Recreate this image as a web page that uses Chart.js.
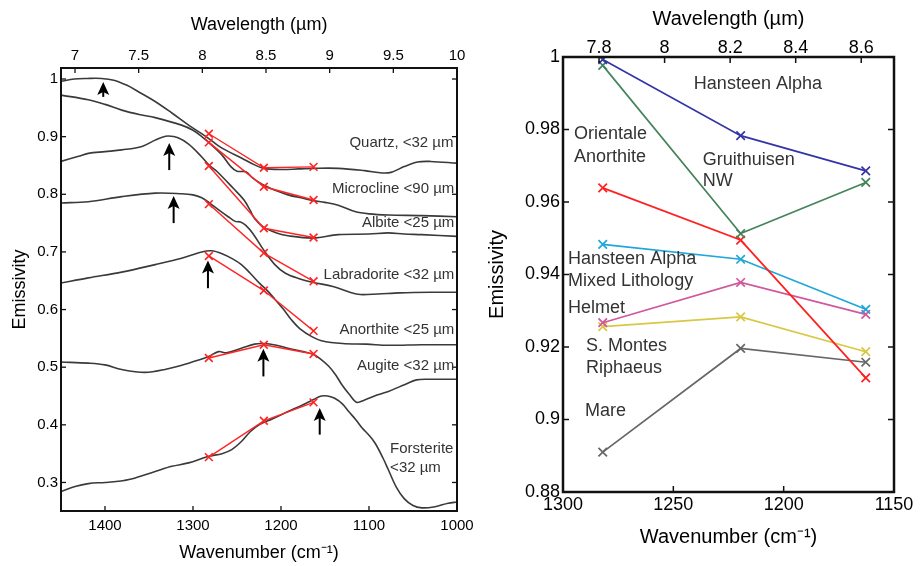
<!DOCTYPE html>
<html><head><meta charset="utf-8">
<script src="https://cdn.jsdelivr.net/npm/chart.js@4.4.1/dist/chart.umd.min.js"></script>
<style>
html,body{margin:0;padding:0;background:#fff;}
#wrap{position:relative;width:920px;height:566px;overflow:hidden;}
#c1{position:absolute;left:0;top:0;}
#c2{position:absolute;left:470px;top:0;}
</style></head><body>
<div id="wrap"><canvas id="c1" width="490" height="566"></canvas><canvas id="c2" width="450" height="566"></canvas></div>
<script>
// ---------- LEFT PANEL DATA: lab spectra [wavenumber cm-1, emissivity] ----------
const quartz = [[1450,0.996],[1435,1.000],[1420,1.001],[1404,1.001],[1390,0.998],[1375,0.989],[1362,0.978],[1343,0.961],[1324,0.941],[1305,0.920],[1286,0.901],[1267,0.880],[1245,0.863],[1230,0.851],[1220,0.845],[1200,0.843],[1180,0.844],[1163,0.845],[1135,0.845],[1105,0.841],[1085,0.837],[1075,0.838],[1060,0.848],[1045,0.856],[1030,0.857],[1000,0.854]];
const microcline = [[1450,0.972],[1419,0.964],[1400,0.956],[1381,0.946],[1360,0.938],[1343,0.933],[1313,0.920],[1300,0.911],[1290,0.900],[1280,0.887],[1267,0.868],[1257,0.848],[1250,0.840],[1240,0.839],[1232,0.828],[1220,0.816],[1205,0.806],[1192,0.799],[1175,0.793],[1163,0.789],[1150,0.786],[1135,0.781],[1116,0.770],[1100,0.766],[1078,0.764],[1040,0.763],[1000,0.761]];
const albite = [[1450,0.857],[1430,0.866],[1419,0.871],[1400,0.874],[1381,0.877],[1358,0.883],[1343,0.894],[1335,0.899],[1328,0.901],[1317,0.898],[1305,0.887],[1292,0.868],[1282,0.851],[1273,0.840],[1254,0.810],[1242,0.790],[1235,0.772],[1230,0.758],[1220,0.743],[1205,0.733],[1192,0.728],[1163,0.724],[1135,0.730],[1100,0.731],[1078,0.733],[1060,0.731],[1040,0.730],[1000,0.727]];
const labradorite = [[1450,0.785],[1419,0.787],[1381,0.796],[1343,0.802],[1313,0.801],[1300,0.799],[1290,0.794],[1282,0.786],[1270,0.772],[1260,0.761],[1252,0.753],[1246,0.752],[1240,0.746],[1232,0.732],[1220,0.704],[1207,0.678],[1195,0.663],[1180,0.654],[1163,0.647],[1141,0.640],[1120,0.629],[1110,0.626],[1090,0.627],[1065,0.629],[1030,0.630],[1000,0.630]];
const anorthite = [[1450,0.646],[1419,0.655],[1381,0.665],[1343,0.678],[1313,0.689],[1290,0.700],[1279,0.702],[1267,0.697],[1255,0.688],[1245,0.678],[1235,0.663],[1224,0.645],[1215,0.632],[1207,0.618],[1197,0.600],[1188,0.582],[1178,0.566],[1165,0.553],[1154,0.546],[1130,0.541],[1103,0.540],[1078,0.538],[1040,0.539],[1000,0.539]];
const augite = [[1450,0.509],[1419,0.507],[1400,0.504],[1381,0.496],[1355,0.491],[1332,0.496],[1305,0.507],[1283,0.518],[1271,0.527],[1262,0.525],[1245,0.533],[1230,0.540],[1220,0.541],[1205,0.538],[1192,0.533],[1175,0.527],[1163,0.522],[1155,0.514],[1146,0.502],[1138,0.487],[1131,0.470],[1122,0.452],[1114,0.439],[1105,0.443],[1090,0.452],[1078,0.458],[1059,0.470],[1046,0.478],[1030,0.479],[1000,0.479]];
const forsterite = [[1450,0.284],[1434,0.293],[1419,0.298],[1400,0.300],[1385,0.302],[1370,0.306],[1343,0.319],[1324,0.328],[1305,0.334],[1283,0.345],[1267,0.350],[1256,0.357],[1245,0.371],[1235,0.388],[1224,0.401],[1210,0.410],[1192,0.423],[1175,0.435],[1163,0.444],[1154,0.450],[1147,0.450],[1139,0.446],[1130,0.436],[1123,0.423],[1115,0.409],[1108,0.395],[1100,0.382],[1093,0.368],[1084,0.342],[1078,0.322],[1069,0.292],[1060,0.272],[1050,0.260],[1040,0.256],[1025,0.258],[1010,0.264],[1000,0.266]];

// band-averaged samples (red crosses) at the three Diviner bands
const sampleWn = [1282, 1219.5, 1163];
const quartzX = [0.905, 0.846, 0.8475];
const microclineX = [0.890, 0.813, 0.790];
const albiteX = [0.849, 0.741, 0.725];
const labradoriteX = [0.783, 0.698, 0.649];
const anorthiteX = [0.693, 0.633, 0.563];
const augiteX = [0.516, 0.539, 0.523];
const forsteriteX = [0.344, 0.407, 0.439];

// Christiansen-feature arrows: [wavenumber, tip emissivity, tail emissivity]
const arrows = [[1402,0.995,0.969],[1327,0.889,0.842],[1322,0.797,0.750],[1283,0.685,0.637],[1220,0.532,0.484],[1156,0.429,0.383]];

const leftXTicks = [1400,1300,1200,1100,1000];
const leftTopTicks = [7,7.5,8,8.5,9,9.5,10];
const leftYTicks = [0.3,0.4,0.5,0.6,0.7,0.8,0.9,1];

// spectrum labels: [text, wavenumber anchor, emissivity anchor, align]
const leftLabels = [
  ['Quartz, <32 \u00b5m',1004,0.890,'right'],
  ['Microcline <90 \u00b5m',1003,0.809,'right'],
  ['Albite <25 \u00b5m',1003,0.750,'right'],
  ['Labradorite <32 \u00b5m',1003,0.661,'right'],
  ['Anorthite <25 \u00b5m',1003,0.565,'right'],
  ['Augite <32 \u00b5m',1003,0.502,'right'],
  ['Forsterite',1076,0.359,'left'],
  ['<32 \u00b5m',1076,0.326,'left']
];

// ---------- RIGHT PANEL DATA: lunar regions ----------
const bandWn = [1282, 1219.5, 1162.8];
const hansteenAlpha = [0.9993, 0.9783, 0.9686];
const gruithuisenNW = [0.9977, 0.9513, 0.9654];
const orientaleAnorthite = [0.9639, 0.9495, 0.9115];
const hansteenMixed = [0.9483, 0.9442, 0.9304];
const helmet = [0.9267, 0.9378, 0.9290];
const montesRiphaeus = [0.9256, 0.9283, 0.9187];
const mare = [0.8910, 0.9196, 0.9158];

const rightXTicks = [1300,1250,1200,1150];
const rightTopTicks = [7.8,8,8.2,8.4,8.6];
const rightYTicks = [0.88,0.9,0.92,0.94,0.96,0.98,1];

const rightLabels = [
  ['Hansteen Alpha',1240.7,0.9926,'left'],
  ['Orientale',1295.0,0.9788,'left'],
  ['Anorthite',1295.0,0.9725,'left'],
  ['Gruithuisen',1236.7,0.9717,'left'],
  ['NW',1236.7,0.9657,'left'],
  ['Hansteen Alpha',1297.7,0.9444,'left'],
  ['Mixed Lithology',1297.7,0.9383,'left'],
  ['Helmet',1297.7,0.9308,'left'],
  ['S. Montes',1289.6,0.9204,'left'],
  ['Riphaeus',1289.6,0.9143,'left'],
  ['Mare',1290.0,0.9024,'left']
];

// ---------- helpers ----------
const FONT = '"Liberation Sans", Arial, Helvetica, sans-serif';
const toXY = arr => arr.map(p => ({x: p[0], y: p[1]}));
const zipXY = (xs, ys) => xs.map((x, i) => ({x: x, y: ys[i]}));
const setTicks = vals => (s => { s.ticks = vals.map(v => ({value: v})); });
const fixW = w => (s => { s.width = w; s.paddingTop = 0; s.paddingBottom = 0; s.paddingLeft = 0; s.paddingRight = 0; });
const fixH = h => (s => { s.height = h; s.paddingTop = 0; s.paddingBottom = 0; s.paddingLeft = 0; s.paddingRight = 0; });
const noGrid = {display: false, drawTicks: false};

function decorPlugin(o) {
  return {
    id: 'decor',
    afterDatasetsDraw(chart) {
      const {ctx, chartArea: a, scales} = chart;
      const sx = scales.x, sy = scales.y, st = scales.x2;
      ctx.save();
      ctx.strokeStyle = '#111';
      ctx.lineWidth = o.tickWidth;
      const L = o.tickLen;
      const seg = (x1, y1, x2, y2) => { ctx.beginPath(); ctx.moveTo(x1, y1); ctx.lineTo(x2, y2); ctx.stroke(); };
      sx.ticks.forEach(t => { const p = sx.getPixelForValue(t.value); seg(p, a.bottom, p, a.bottom - L); });
      st.ticks.forEach(t => { const p = st.getPixelForValue(t.value); seg(p, a.top, p, a.top + L); });
      sy.ticks.forEach(t => { const p = sy.getPixelForValue(t.value); seg(a.left, p, a.left + L, p); seg(a.right, p, a.right - L, p); });
      // arrows
      (o.arrows || []).forEach(ar => {
        const x = sx.getPixelForValue(ar[0]);
        const yt = sy.getPixelForValue(ar[1]);
        const yb = sy.getPixelForValue(ar[2]);
        ctx.fillStyle = '#000'; ctx.strokeStyle = '#000'; ctx.lineWidth = 2;
        seg(x, yb, x, yt + 8);
        ctx.beginPath();
        ctx.moveTo(x, yt);
        ctx.lineTo(x - 6, yt + 13);
        ctx.lineTo(x, yt + 10);
        ctx.lineTo(x + 6, yt + 13);
        ctx.closePath();
        ctx.fill();
      });
      // labels
      ctx.fillStyle = o.labelColor;
      ctx.font = o.labelFont;
      ctx.textBaseline = 'middle';
      (o.labels || []).forEach(lb => {
        ctx.textAlign = lb[3];
        ctx.fillText(lb[0], sx.getPixelForValue(lb[1]), sy.getPixelForValue(lb[2]));
      });
      // frame
      ctx.strokeStyle = '#111';
      ctx.lineWidth = o.frameWidth;
      ctx.strokeRect(a.left, a.top, a.width, a.height);
      ctx.restore();
    }
  };
}

// ---------- LEFT CHART ----------
const GRAY = '#3a3a3a', RED = '#ff2424';
const spectra = [quartz, microcline, albite, labradorite, anorthite, augite, forsterite];
const samples = [quartzX, microclineX, albiteX, labradoriteX, anorthiteX, augiteX, forsteriteX];
const leftDatasets = [];
samples.forEach(s => leftDatasets.push({
  data: zipXY(sampleWn, s), borderColor: RED, backgroundColor: RED, borderWidth: 1.4,
  pointStyle: 'crossRot', pointRadius: 5.5, pointBorderWidth: 1.6, tension: 0
}));
spectra.forEach(s => leftDatasets.push({
  data: toXY(s), borderColor: GRAY, borderWidth: 1.6, pointRadius: 0, tension: 0.35
}));

new Chart(document.getElementById('c1'), {
  type: 'line',
  data: {datasets: leftDatasets},
  options: {
    responsive: false, animation: false, devicePixelRatio: 1,
    layout: {padding: {left: 0, top: 0, right: 33, bottom: 0}},
    plugins: {legend: {display: false}, tooltip: {enabled: false}},
    scales: {
      x: {
        type: 'linear', position: 'bottom', min: 1000, max: 1450, reverse: true,
        afterBuildTicks: setTicks(leftXTicks), afterFit: fixH(55),
        grid: noGrid, border: {display: false},
        ticks: {color: '#000', padding: 7.5, font: {family: FONT, size: 15, lineHeight: 1}, maxRotation: 0, callback: v => String(v)},
        title: {display: true, text: 'Wavenumber (cm\u207b\u00b9)', color: '#000', font: {family: FONT, size: 18, lineHeight: 1.2}, padding: {top: 0, bottom: 2}}
      },
      x2: {
        type: 'linear', position: 'top', min: 6.89, max: 10,
        afterBuildTicks: setTicks(leftTopTicks), afterFit: fixH(68),
        grid: noGrid, border: {display: false},
        ticks: {color: '#000', padding: 4.5, font: {family: FONT, size: 15, lineHeight: 1}, maxRotation: 0, callback: v => String(v)},
        title: {display: true, text: 'Wavelength (\u00b5m)', color: '#000', font: {family: FONT, size: 18, lineHeight: 1.2}, padding: {top: 14, bottom: 0}}
      },
      y: {
        type: 'linear', position: 'left', min: 0.2505, max: 1.0191,
        afterBuildTicks: setTicks(leftYTicks), afterFit: fixW(61),
        grid: noGrid, border: {display: false},
        ticks: {color: '#000', padding: 3, font: {family: FONT, size: 15, lineHeight: 1}, callback: v => String(v)},
        title: {display: true, text: 'Emissivity', color: '#000', font: {family: FONT, size: 18, lineHeight: 1.2}, padding: {top: 9, bottom: 0}}
      }
    }
  },
  plugins: [decorPlugin({tickLen: 5, tickWidth: 1.3, frameWidth: 2, arrows: arrows, labels: leftLabels, labelColor: '#333', labelFont: '15px ' + FONT})]
});

// ---------- RIGHT CHART ----------
const regionSeries = [
  [hansteenAlpha, '#3434a8'],
  [gruithuisenNW, '#43845a'],
  [orientaleAnorthite, '#ff2020'],
  [hansteenMixed, '#1ea7d8'],
  [helmet, '#d0589c'],
  [montesRiphaeus, '#d8c844'],
  [mare, '#666666']
];
const rightDatasets = regionSeries.map(r => ({
  data: zipXY(bandWn, r[0]), borderColor: r[1], backgroundColor: r[1], borderWidth: 1.7,
  pointStyle: 'crossRot', pointRadius: 6, pointBorderWidth: 1.7, tension: 0
}));

new Chart(document.getElementById('c2'), {
  type: 'line',
  data: {datasets: rightDatasets},
  options: {
    responsive: false, animation: false, devicePixelRatio: 1,
    layout: {padding: {left: 0, top: 0, right: 26, bottom: 0}},
    plugins: {legend: {display: false}, tooltip: {enabled: false}},
    scales: {
      x: {
        type: 'linear', position: 'bottom', min: 1150, max: 1300, reverse: true,
        afterBuildTicks: setTicks(rightXTicks), afterFit: fixH(74),
        grid: noGrid, border: {display: false},
        ticks: {color: '#000', padding: 4, font: {family: FONT, size: 18, lineHeight: 1}, maxRotation: 0, callback: v => String(v)},
        title: {display: true, text: 'Wavenumber (cm\u207b\u00b9)', color: '#000', font: {family: FONT, size: 20, lineHeight: 1.2}, padding: {top: 0, bottom: 17}}
      },
      x2: {
        type: 'linear', position: 'top', min: 7.69, max: 8.70,
        afterBuildTicks: setTicks(rightTopTicks), afterFit: fixH(57),
        grid: noGrid, border: {display: false},
        ticks: {color: '#000', padding: 0, font: {family: FONT, size: 18, lineHeight: 1}, maxRotation: 0, callback: v => String(v)},
        title: {display: true, text: 'Wavelength (\u00b5m)', color: '#000', font: {family: FONT, size: 20, lineHeight: 1.2}, padding: {top: 7, bottom: 0}}
      },
      y: {
        type: 'linear', position: 'left', min: 0.88, max: 1.0,
        afterBuildTicks: setTicks(rightYTicks), afterFit: fixW(93),
        grid: noGrid, border: {display: false},
        ticks: {color: '#000', padding: 3, font: {family: FONT, size: 18, lineHeight: 1}, callback: v => String(v)},
        title: {display: true, text: 'Emissivity', color: '#000', font: {family: FONT, size: 20, lineHeight: 1.2}, padding: {top: 15, bottom: 0}}
      }
    }
  },
  plugins: [decorPlugin({tickLen: 6, tickWidth: 1.5, frameWidth: 2.5, labels: rightLabels, labelColor: '#333', labelFont: '18px ' + FONT})]
});
</script></body></html>
